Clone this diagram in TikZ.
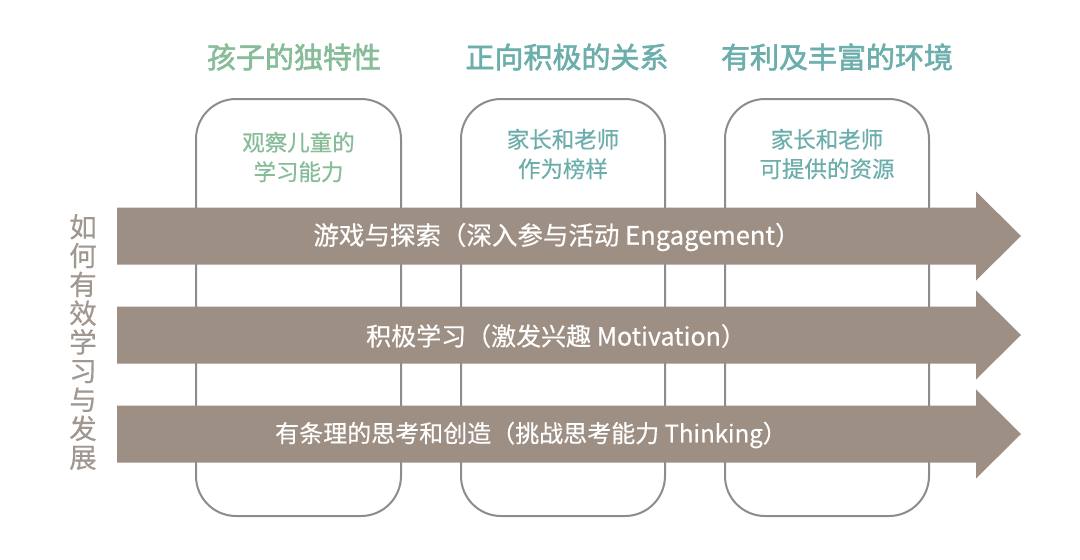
\documentclass[tikz,border=0pt]{standalone}
\usepackage{fontspec}
\newfontfamily\cjk{Noto Sans CJK SC}
\newfontfamily\cjkt[FakeBold=2]{Noto Sans CJK SC}
\newfontfamily\cjka[FakeBold=0.4]{Noto Sans CJK SC}
\usetikzlibrary{positioning}
\definecolor{tgreen}{HTML}{86BC98}
\definecolor{tteal}{HTML}{6BAEAC}
\definecolor{arrowc}{HTML}{9E8F84}
\definecolor{boxline}{HTML}{8C8C8C}
\definecolor{sidec}{HTML}{A09890}
\tikzset{
  colbox/.style={draw=boxline, line width=2pt, rounded corners=40pt, fill=white},
  titletext/.style={font=\cjkt\fontsize{29}{32}\selectfont, inner sep=0pt},
  boxtext/.style={font=\cjka\fontsize{22.5}{29.5}\selectfont, align=center, inner sep=0pt},
  arrowbody/.style={fill=arrowc, draw=none},
  arrowtext/.style={text=white, inner sep=0pt},
  sidetext/.style={font=\cjka\fontsize{27.5}{28.8}\selectfont, text=sidec, align=center, inner sep=0pt},
}
\begin{document}
\begin{tikzpicture}[x=1pt,y=-1pt]
\useasboundingbox (0,0) rectangle (1080,560);
% column boxes
\path[colbox] (196,99) rectangle (401,516);
\path[colbox] (461,99) rectangle (665,516);
\path[colbox] (725,99) rectangle (929,516);
\node[coordinate] (b1) at (298.5,307) {};
\node[coordinate] (b2) at (563,307) {};
\node[coordinate] (b3) at (827,307) {};
% titles
\node[titletext, text=tgreen] (t1) at (294,57) {孩子的独特性};
\node[titletext, text=tteal] (t2) at (567,57) {正向积极的关系};
\node[titletext, text=tteal] (t3) at (837,57) {有利及丰富的环境};
% box texts
\node[boxtext, text=tgreen] (s1) at (298.5,157) {观察儿童的\\学习能力};
\node[boxtext, text=tteal] (s2) at (563,154) {家长和老师\\作为榜样};
\node[boxtext, text=tteal] (s3) at (827,154) {家长和老师\\可提供的资源};
% arrows
\foreach \yc/\nm in {236/a1,335/a2,434/a3}{
  \path[arrowbody] (117,\yc-28.5) -- (976,\yc-28.5) -- (976,\yc-44.5) -- (1021,\yc) -- (976,\yc+44.5) -- (976,\yc+28.5) -- (117,\yc+28.5) -- cycle;
  \node[coordinate] (\nm) at (546,\yc) {};
}
\node[arrowtext, font=\cjka\fontsize{25.5}{27}\selectfont] (l1) at (557,237) {游戏与探索（深入参与活动 Engagement）};
\node[arrowtext, font=\cjka\fontsize{25}{27}\selectfont] (l2) at (556,336) {积极学习（激发兴趣 Motivation）};
\node[arrowtext, font=\cjka\fontsize{24}{26}\selectfont] (l3) at (531,435) {有条理的思考和创造（挑战思考能力 Thinking）};
% side text
\node[sidetext] (side) at (83,342) {如\\何\\有\\效\\学\\习\\与\\发\\展};
\end{tikzpicture}
\end{document}
